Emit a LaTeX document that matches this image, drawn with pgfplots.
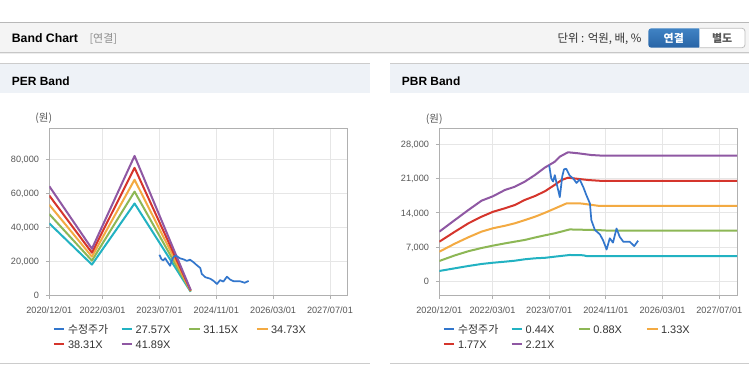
\documentclass[border=0pt]{standalone}
\usepackage{fontspec}
\setmainfont{Liberation Sans}
\newfontfamily\kr{Noto Sans CJK KR}
\usepackage{pgfplots}
\pgfplotsset{compat=1.18}
\definecolor{cPrice}{HTML}{3276CC}
\definecolor{cTeal}{HTML}{22B2C2}
\definecolor{cGreen}{HTML}{8DB755}
\definecolor{cOrange}{HTML}{F3AA42}
\definecolor{cRed}{HTML}{D5352C}
\definecolor{cPurple}{HTML}{8F58A3}
\definecolor{gridc}{HTML}{E6E6E6}
\definecolor{axisc}{HTML}{B0B0B0}
\definecolor{tickc}{HTML}{555555}
\definecolor{legc}{HTML}{333333}
\definecolor{hdrc}{HTML}{F4F4F4}
\definecolor{panc}{HTML}{EEF2F7}
\definecolor{linec}{HTML}{B8B8B8}

\pgfplotsset{
  legend image code/.code={\draw[#1, line width=2.2bp] (0bp,0bp) -- (10.6bp,0bp);},
  band/.style={
    scale only axis,
    xmin=0, xmax=84,
    axis line style={axisc, line width=0.9bp},
    grid=major,
    major grid style={gridc, line width=0.8bp},
    xtick={0,15,31,47,63,79},
    xticklabels={2020/12/01,2022/03/01,2023/07/01,2024/11/01,2026/03/01,2027/07/01},
    xtick pos=left, ytick pos=left,
    tick align=outside,
    major tick length=3.5bp,
    tick style={axisc, line width=0.8bp},
    ticklabel style={font=\fontsize{9.2}{10}\selectfont, text=tickc},
    xticklabel style={anchor=base, inner sep=0pt, yshift=-15.2bp},
    yticklabel style={anchor=base east, inner sep=0pt, xshift=-6.6bp, yshift=-3.3bp},
    /pgf/number format/assume math mode=true,
    /pgf/number format/1000 sep={,},
    scaled y ticks=false,
    legend columns=4,
    legend cell align=left,
    legend style={draw=none, fill=none, inner sep=0pt, outer sep=0pt,
      at={(0.0114,-0.1823)}, anchor=north west,
      font=\fontsize{11}{12}\selectfont, text=legc,
      nodes={inner sep=0pt, text height=7.9bp, text depth=0pt, text width=52.4bp, align=left},
      row sep=7.1bp, column sep=0pt,
      /tikz/every odd column/.append style={column sep=2.5bp}},
  },
  band line/.style={line width=2bp, line join=round},
  price line/.style={cPrice, line width=1.7bp, line join=round},
}

\begin{document}
\begin{tikzpicture}[x=1bp,y=1bp]
\path[use as bounding box] (0,0) rectangle (749,364);
\fill[white] (0,0) rectangle (749,364);
% top header
\fill[hdrc] (0,311.5) rectangle (749,341.7);
\draw[linec, line width=1bp] (0,341.7) -- (749,341.7);
\draw[black!22, line width=1bp] (0,311.3) -- (749,311.3);
\draw[black!7, line width=1bp] (0,310.3) -- (749,310.3);
\node[anchor=base west, inner sep=0pt, font=\fontsize{12.3}{14}\selectfont\bfseries] at (11.7,321.3) {Band Chart};
\node[anchor=base west, inner sep=0pt, font=\kr\fontsize{11}{13}\selectfont, text=black!45] at (89.3,321.5) {[연결]};
\node[anchor=base east, inner sep=0pt, font=\kr\fontsize{11.5}{13}\selectfont, text=black!80] at (641.7,321.2) {단위 : 억원, 배, \%};
% buttons
\shade[top color={rgb,255:red,64;green,131;blue,196}, bottom color={rgb,255:red,40;green,100;blue,166}, rounded corners=3bp]
  (699.3,316.3) -- (648.3,316.3) -- (648.3,335.7) -- (699.3,335.7);
\draw[fill=white, draw=black!25, line width=0.8bp, rounded corners=3bp] (699.3,335.7) -- (745,335.7) -- (745,316.3) -- (699.3,316.3);
\node[anchor=base, inner sep=0pt, font=\kr\bfseries\fontsize{11}{13}\selectfont, text=white] at (673.8,321.6) {연결};
\node[anchor=base, inner sep=0pt, font=\kr\bfseries\fontsize{11}{13}\selectfont, text=black!65] at (722.2,321.6) {별도};
% panels
\fill[panc] (0,271.3) rectangle (370,300.7);
\draw[black!20, line width=1bp] (0,301) -- (370,301);
\fill[panc] (390,271.3) rectangle (749,300.7);
\draw[black!20, line width=1bp] (390,301) -- (749,301);
\draw[black!20, line width=1bp] (0,0.6) -- (370,0.6);
\draw[black!20, line width=1bp] (390,0.6) -- (749,0.6);
\node[anchor=base west, inner sep=0pt, font=\fontsize{12}{14}\selectfont\bfseries] at (11.7,278.7) {PER Band};
\node[anchor=base west, inner sep=0pt, font=\fontsize{12}{14}\selectfont\bfseries] at (401.7,278.7) {PBR Band};
\node[anchor=base, inner sep=0pt, font=\kr\fontsize{10.5}{12}\selectfont, text=tickc] at (43.8,243) {(원)};
\node[anchor=base, inner sep=0pt, font=\kr\fontsize{10.5}{12}\selectfont, text=tickc] at (434.3,242) {(원)};

% PER chart
\begin{axis}[band, at={(49.3bp,69bp)}, anchor=south west, width=298.4bp, height=167bp,
  ymin=0, ymax=98400, ytick={0,20000,40000,60000,80000}]
\addlegendimage{cPrice}\addlegendentry{{\kr 수정주가}}
\addplot[band line, cTeal] coordinates {(0,42180)(12,17920)(24,53930)(39.8,1930)};
\addlegendentry{27.57X}
\addplot[band line, cGreen] coordinates {(0,47660)(12,20250)(24,60930)(39.8,2180)};
\addlegendentry{31.15X}
\addplot[band line, cOrange] coordinates {(0,53140)(12,22570)(24,67930)(39.8,2430)};
\addlegendentry{34.73X}
\addplot[band line, cRed] coordinates {(0,58610)(12,24900)(24,74940)(39.8,2680)};
\addlegendentry{38.31X}
\addplot[band line, cPurple] coordinates {(0,64090)(12,27230)(24,81940)(39.8,2930)};
\addlegendentry{41.89X}
\addplot[price line, forget plot] coordinates {(31.0,23700)(31.6,21000)(32.1,20400)(32.6,21700)(33.1,20000)(34.0,17200)(34.7,21500)(35.2,22900)(35.8,23000)(36.8,21600)(37.8,21000)(38.7,20100)(39.6,20800)(40.6,19300)(41.5,17600)(42.5,15900)(42.9,12500)(43.9,10500)(45.3,9600)(46.2,8400)(47.2,6500)(48.1,8800)(49.0,7900)(50.0,10800)(50.9,9100)(51.9,8100)(53.7,8100)(55.0,7200)(56.1,8300)};
\end{axis}

% PBR chart
\begin{axis}[band, at={(439.3bp,69bp)}, anchor=south west, width=297.7bp, height=166.7bp,
  ymin=-2800, ymax=31270, ytick={0,7000,14000,21000,28000}]
\addlegendimage{cPrice}\addlegendentry{{\kr 수정주가}}
\addplot[band line, cTeal] coordinates {(0,2110)(4.4,2660)(8.2,3130)(11.9,3540)(15.2,3800)(18.5,4010)(21.3,4210)(24.1,4500)(27.0,4700)(29.8,4800)(32.5,5030)(36.8,5380)(40.6,5320)(41.5,5170)(84,5170)};
\addlegendentry{0.44X}
\addplot[band line, cGreen] coordinates {(0,4150)(4.4,5300)(8.2,6150)(11.9,6800)(15.2,7300)(18.5,7750)(21.3,8100)(24.1,8450)(27.0,8950)(29.8,9400)(32.5,9800)(36.8,10600)(45.3,10450)(48,10340)(84,10340)};
\addlegendentry{0.88X}
\addplot[band line, cOrange] coordinates {(0,6050)(4.4,7700)(8.2,9000)(11.9,10150)(15.2,10850)(18.5,11350)(21.3,11850)(24.1,12500)(27.0,13200)(29.8,14000)(32.5,14850)(35.9,15920)(40.1,15900)(45.3,15390)(84,15390)};
\addlegendentry{1.33X}
\addplot[band line, cRed] coordinates {(0,8090)(4.4,10140)(8.2,11850)(11.9,13200)(15.2,14220)(18.5,14920)(21.3,15590)(24.1,16620)(27.0,17430)(29.8,18400)(32.5,19680)(34.5,20700)(36.3,21170)(42.0,20700)(46.2,20500)(84,20500)};
\addlegendentry{1.77X}
\addplot[band line, cPurple] coordinates {(0,10140)(4.4,12530)(8.2,14570)(11.9,16470)(15.2,17400)(18.5,18660)(21.3,19330)(24.1,20360)(27.0,21730)(29.8,23250)(32.5,24400)(34.0,25470)(36.3,26370)(39.2,26160)(42.9,25810)(46.2,25670)(84,25670)};
\addlegendentry{2.21X}
\addplot[price line, forget plot] coordinates {(31.0,23700)(31.6,21000)(32.1,20400)(32.6,21700)(33.1,20000)(34.0,17200)(34.7,21500)(35.2,22900)(35.8,23000)(36.8,21600)(37.8,21000)(38.7,20100)(39.6,20800)(40.6,19300)(41.5,17600)(42.5,15900)(42.9,12500)(43.9,10500)(45.3,9600)(46.2,8400)(47.2,6500)(48.1,8800)(49.0,7900)(50.0,10800)(50.9,9100)(51.9,8100)(53.7,8100)(55.0,7200)(56.1,8300)};
\end{axis}
\end{tikzpicture}
\end{document}
